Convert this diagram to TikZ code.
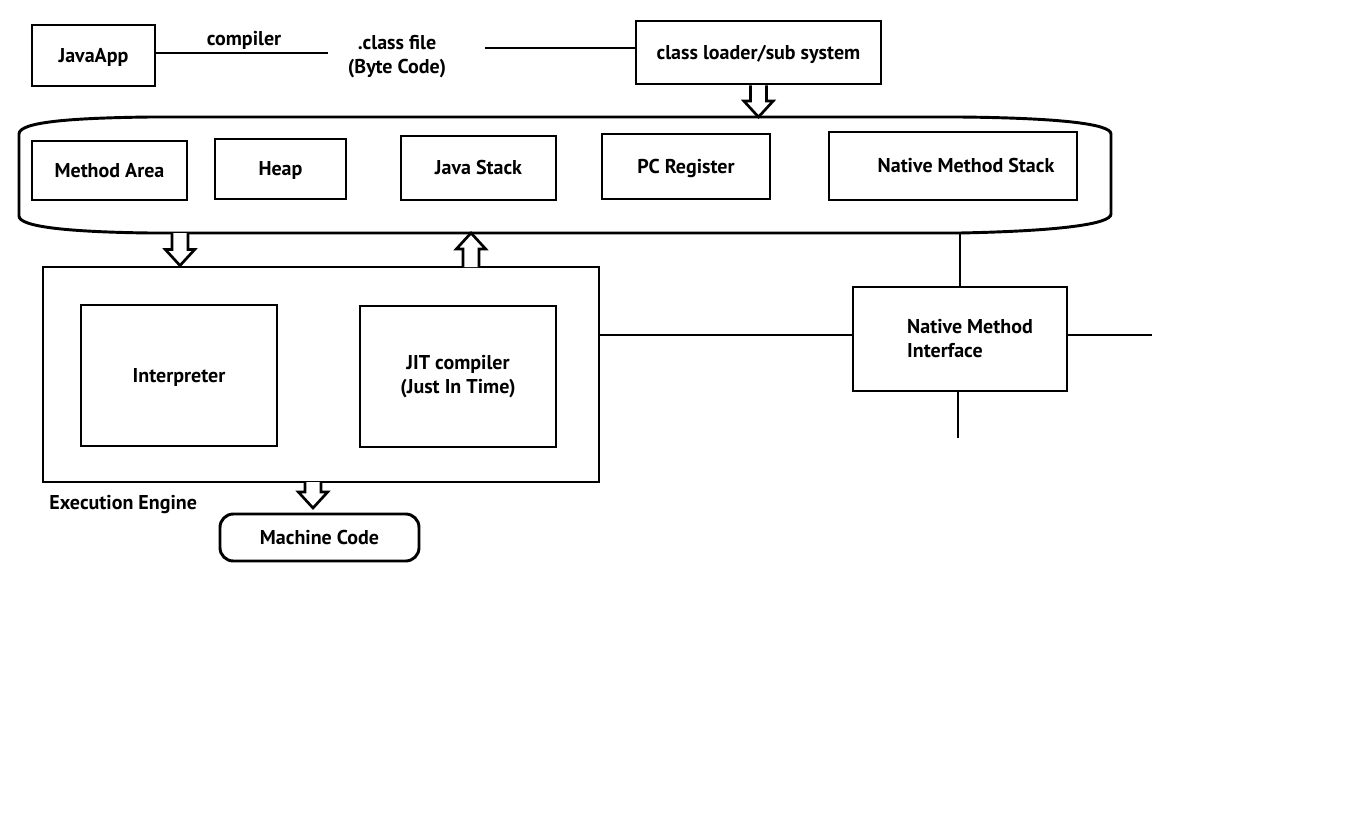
\documentclass[tikz,border=0pt]{standalone}
\usepackage{fontspec}
\setmainfont{PT Sans}
\usetikzlibrary{calc}
\newcommand{\fatarrow}[2]{%
  \path (#2) coordinate (fa-tip) ($(#2)!12pt!(#1)$) coordinate (fa-base);
  \draw[fat] ($(#1)!6pt!90:(#2)$) -- ($(fa-base)!6pt!90:(fa-tip)$) -- ($(fa-base)!11pt!90:(fa-tip)$)
    -- (fa-tip) -- ($(fa-base)!11pt!-90:(fa-tip)$) -- ($(fa-base)!6pt!-90:(fa-tip)$) -- ($(#1)!6pt!-90:(#2)$);
}
\begin{document}
\begin{tikzpicture}[x=0.75pt,y=-0.75pt,line width=2.2pt,
  font=\fontsize{15}{18}\selectfont\bfseries,
  box/.style={draw,rectangle,inner sep=0pt},
  one/.style={box,text height=12pt,text depth=2pt},
  sz/.style 2 args={minimum width=#1*0.75pt,minimum height=#2*0.75pt},
  lbl/.style={inner sep=0pt,align=center},
  fat/.style={line width=2pt,fill=white,line join=miter}]
\useasboundingbox (0,0) rectangle (1358,831);

\node[one,sz={123}{61}] (javaapp) at (93.5,55.5) {JavaApp};
\node[lbl] (compiler) at (244,40) {compiler};
\node[lbl] (classfile) at (397,57) {.class file\\(Byte Code)};
\node[one,sz={245}{63}] (loader) at (758.5,52.5) {class loader/sub system};
\coordinate (cfl) at (328,53);
\coordinate (cfr) at (485,48);
\draw (javaapp.east |- cfl) -- (cfl);
\draw (cfr) -- (cfr -| loader.west);

\draw (19,134) .. controls (19,122) and (70,118) .. (150,117) -- (960,117)
  .. controls (1060,118) and (1111,124) .. (1111,134) -- (1111,214)
  .. controls (1111,224) and (1060,231) .. (960,233) -- (150,233)
  .. controls (70,232) and (19,227) .. (19,216) -- cycle;
\coordinate (rttop) at (0,117);
\coordinate (rtbot) at (0,233);

\node[one,sz={155}{59}] (mth) at (109.5,170.5) {Method Area};
\node[one,sz={131}{60}] (heap) at (280.5,169) {Heap};
\node[one,sz={155}{64}] (jstack) at (478.5,168) {Java Stack};
\node[one,sz={168}{65}] (pcreg) at (686,166.5) {PC Register};
\node[one,sz={248}{68}] (nms) at (953,166) {\hspace*{19.5pt}Native Method Stack};

\node[box,sz={556}{215}] (exec) at (321,374.5) {};
\node[one,sz={196}{141}] (interp) at (179,375.5) {Interpreter};
\node[box,sz={196}{141},align=center] (jit) at (458,376.5) {JIT compiler\\(Just In Time)};
\node[lbl,anchor=west] (execlbl) at (48,505) {Execution Engine};
\node[one,sz={199}{47},rounded corners=10pt] (mcode) at (319.5,537.5) {Machine Code};

\node[box,sz={214}{104},align=left] (nmi) at (960,339) {\hspace*{15pt}Native Method\\\hspace*{15pt}Interface};
\coordinate (nmir) at (1152,335);
\coordinate (nmid) at (958,438);
\draw (nmi.north) -- (nmi.north |- rtbot);
\draw (exec.east |- nmir) -- (nmi.west |- nmir);
\draw (nmi.east |- nmir) -- (nmir);
\draw (nmi.south -| nmid) -- (nmid);

\coordinate (dn1) at (180,233);
\coordinate (up1) at (471,267);
\coordinate (dn2) at (313,482);
\coordinate (mtip) at (313,508);
\fatarrow{loader.south}{loader.south |- rttop}
\fatarrow{dn1}{dn1 |- exec.north}
\fatarrow{up1}{up1 |- rtbot}
\fatarrow{dn2}{mtip}
\end{tikzpicture}
\end{document}
